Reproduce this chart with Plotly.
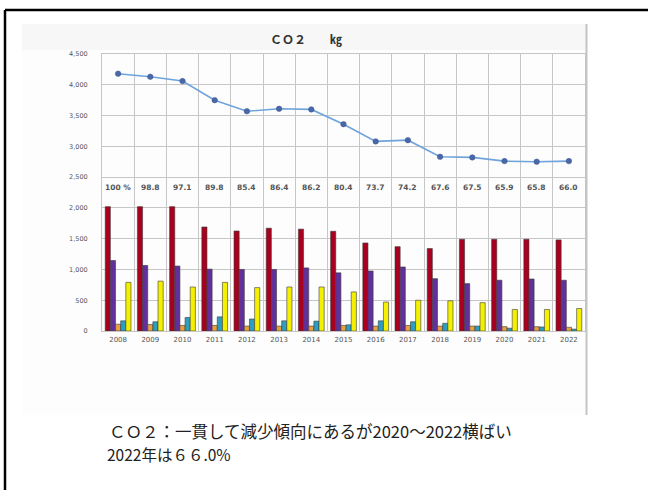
import plotly.graph_objects as go

years = ["2008", "2009", "2010", "2011", "2012", "2013", "2014", "2015",
         "2016", "2017", "2018", "2019", "2020", "2021", "2022"]
total_co2 = [4180, 4130, 4060, 3750, 3570, 3610, 3600, 3360,
             3080, 3100, 2830, 2820, 2760, 2750, 2760]
pct_labels = ["100 %", "98.8", "97.1", "89.8", "85.4", "86.4", "86.2", "80.4",
              "73.7", "74.2", "67.6", "67.5", "65.9", "65.8", "66.0"]
red_series = [2020, 2020, 2020, 1690, 1625, 1670, 1655, 1620,
              1430, 1370, 1340, 1490, 1490, 1490, 1480]
purple_series = [1145, 1065, 1055, 1005, 1000, 1000, 1025, 945,
                 975, 1040, 850, 770, 825, 845, 825]
orange_series = [110, 105, 90, 90, 80, 80, 80, 90,
                 80, 90, 80, 80, 70, 70, 60]
teal_series = [165, 150, 220, 230, 195, 165, 160, 100,
               165, 150, 125, 80, 45, 65, 30]
yellow_series = [790, 810, 715, 790, 705, 715, 715, 635,
                 470, 500, 490, 460, 350, 350, 365]
y_ticks = [0, 500, 1000, 1500, 2000, 2500, 3000, 3500, 4000, 4500]
caption_line1 = "ＣＯ２：一貫して減少傾向にあるが2020～2022横ばい"
caption_line2 = "2022年は６６.0%"

W_FIG, H_FIG = 648, 490
L, R, T, B = 102, 585, 54, 331


def px(x):
    return (x - L) / (R - L)


def py(y):
    return (B - y) / (B - T)


fig = go.Figure()

bar_specs = [
    (red_series, "#A8001E"),
    (purple_series, "#61309A"),
    (orange_series, "#E8A040"),
    (teal_series, "#2E9EC0"),
    (yellow_series, "#F4F000"),
]
for vals, col in bar_specs:
    fig.add_trace(go.Bar(
        x=years, y=vals,
        marker=dict(color=col, line=dict(color="#3a3a3a", width=0.6)),
        showlegend=False, hoverinfo="skip",
    ))

fig.add_trace(go.Scatter(
    x=years, y=total_co2, mode="lines+markers",
    line=dict(color="#6FA3DC", width=1.6),
    marker=dict(symbol="circle", size=5.5, color="#4A68A8",
                line=dict(color="#3A5590", width=0.5)),
    showlegend=False, hoverinfo="skip",
))

annotations = []
for i, lab in enumerate(pct_labels):
    annotations.append(dict(
        x=i, y=2330, xref="x", yref="y", text="<b>" + lab + "</b>",
        showarrow=False, font=dict(size=7.5, color="#555555",
                                   family="DejaVu Sans"),
        xanchor="center", yanchor="middle",
    ))

annotations.append(dict(
    x=px(306), y=py(38), xref="paper", yref="paper",
    text="<b>ＣＯ２　　㎏</b>", showarrow=False,
    font=dict(size=12, color="#333333", family="Noto Sans CJK JP"),
    xanchor="center", yanchor="middle",
))

annotations.append(dict(
    x=px(108), y=py(431), xref="paper", yref="paper",
    text=caption_line1, showarrow=False, borderpad=0,
    font=dict(size=16.5, color="#222222", family="Noto Sans CJK JP"),
    xanchor="left", yanchor="middle",
))
annotations.append(dict(
    x=px(106), y=py(454), xref="paper", yref="paper",
    text=caption_line2, showarrow=False, borderpad=0,
    font=dict(size=15.5, color="#222222", family="Noto Sans CJK JP"),
    xanchor="left", yanchor="middle",
))

shapes = [
    dict(type="rect", xref="paper", yref="paper",
         x0=px(22), x1=px(586), y0=py(415), y1=py(24),
         fillcolor="#fdfdfd", line=dict(width=0), layer="below"),
    dict(type="rect", xref="paper", yref="paper",
         x0=px(22), x1=px(586), y0=py(50), y1=py(24),
         fillcolor="#f7f7f7", line=dict(width=0), layer="below"),
    dict(type="line", xref="paper", yref="paper",
         x0=px(586.5), x1=px(586.5), y0=py(415), y1=py(24),
         line=dict(color="#c4c4c4", width=2)),
    dict(type="line", xref="paper", yref="paper",
         x0=px(5), x1=px(648), y0=py(10), y1=py(10),
         line=dict(color="#000000", width=2.5)),
    dict(type="line", xref="paper", yref="paper",
         x0=px(5), x1=px(5), y0=py(10), y1=py(490),
         line=dict(color="#000000", width=2.5)),
]

fig.update_layout(
    width=W_FIG, height=H_FIG,
    margin=dict(l=L, r=W_FIG - R, t=T, b=H_FIG - B, pad=0),
    paper_bgcolor="#ffffff", plot_bgcolor="#ffffff",
    barmode="group", bargap=0.2, bargroupgap=0.0,
    annotations=annotations, shapes=shapes,
    xaxis=dict(
        type="category", categoryorder="array", categoryarray=years,
        range=[-0.5, len(years) - 0.5], autorange=False,
        tickson="boundaries", showgrid=True,
        gridcolor="#c6c6c6", gridwidth=1, ticks="",
        showline=True, linecolor="#c6c6c6", mirror=True,
        tickangle=0,
        tickfont=dict(size=7, color="#555555", family="DejaVu Sans"),
        ticklabelstandoff=2,
    ),
    yaxis=dict(
        range=[0, 4500], tickvals=y_ticks, tickformat=",",
        showgrid=True, gridcolor="#c6c6c6", gridwidth=1,
        showline=True, linecolor="#c6c6c6", mirror=True,
        zeroline=False, ticks="",
        tickfont=dict(size=6.5, color="#555555", family="DejaVu Sans"),
        ticklabelstandoff=12,
    ),
    font=dict(family="DejaVu Sans"),
)

fig.write_html(
    "out.html",
    config={"displayModeBar": False},
    post_script="document.body.style.margin='0';document.body.style.overflow='hidden';",
)
